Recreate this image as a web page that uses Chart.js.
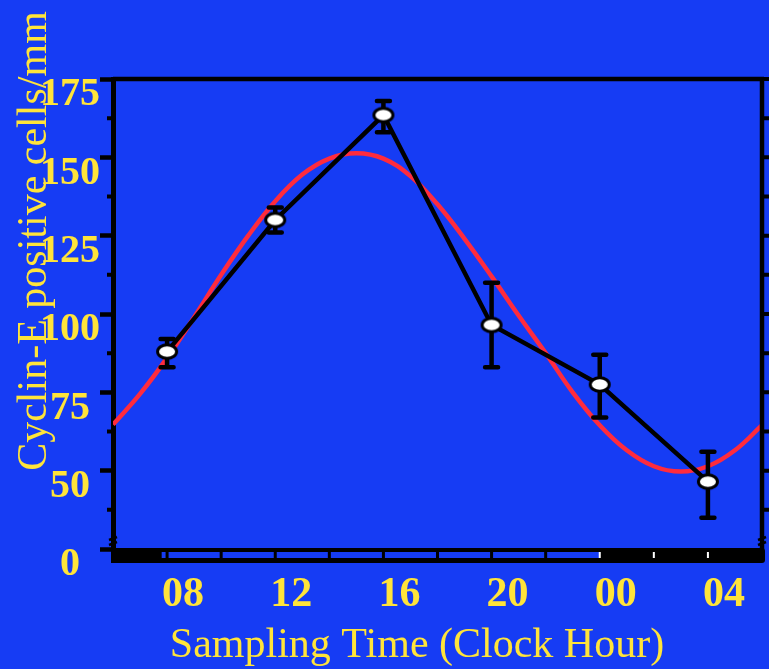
<!DOCTYPE html>
<html>
<head>
<meta charset="utf-8">
<script src="https://cdn.jsdelivr.net/npm/chart.js@4.4.1/dist/chart.umd.min.js"></script>
<style>
  html, body { margin: 0; padding: 0; background: #163cf4; overflow: hidden; }
  canvas { display: block; }
</style>
</head>
<body>
<canvas id="cyclinChart" width="769" height="669"></canvas>
<script>
// sampling times in clock hours (24 and up = next day)
var sampleHours = [8, 12, 16, 20, 24, 28];
var cyclinMean = [88, 130, 163.5, 96.5, 77.5, 46.5];
var errHigh = [92, 134, 168, 110, 87, 56];
var errLow = [83, 126, 158, 83, 67, 35];

// fitted cosine curve
var fitHours = [6, 7, 8, 9, 10, 11, 12, 13, 14, 15, 16, 17, 18, 19, 20, 21, 22, 23, 24, 25, 26, 27, 28, 29, 30];
var fitValues = [64.7, 74.5, 86, 99, 112.5, 125, 136, 144.5, 149.6, 151.3, 149.6, 144, 135, 124, 112, 99.5, 87.5, 75, 64.5, 56.5, 51.4, 49.7, 51.4, 56.5, 64.5];

var xTickHours = [8, 12, 16, 20, 24, 28];
var xTickLabels = ['08', '12', '16', '20', '00', '04'];
var yTickValues = [25, 50, 75, 100, 125, 150, 175];
var yTickLabels = ['0', '50', '75', '100', '125', '150', '175'];

// light / dark bar under the x axis
var lightOn = 7.8;
var lightOff = 24;
var barTickHours = [8, 10, 12, 14, 16, 18, 20, 22, 24, 26, 28];

var BLUE = '#163cf4';
var YELLOW = '#ffe43a';
var SERIF = '"Liberation Serif", "Times New Roman", serif';

// white ellipse marker
var marker = document.createElement('canvas');
marker.width = 26;
marker.height = 19;
(function () {
  var c = marker.getContext('2d');
  c.beginPath();
  c.ellipse(13, 9.5, 9.5, 6.8, 0, 0, Math.PI * 2);
  c.fillStyle = '#fff';
  c.fill();
  c.lineWidth = 3;
  c.strokeStyle = '#000';
  c.stroke();
})();

var background = {
  id: 'background',
  beforeDraw: function (chart) {
    var ctx = chart.ctx;
    ctx.save();
    ctx.fillStyle = BLUE;
    ctx.fillRect(0, 0, chart.width, chart.height);
    ctx.restore();
  }
};

var errorBars = {
  id: 'errorBars',
  beforeDatasetDraw: function (chart, args) {
    if (args.index !== 1) return;
    var xs = chart.scales.x, ys = chart.scales.y, ctx = chart.ctx;
    ctx.save();
    ctx.strokeStyle = '#000';
    ctx.lineWidth = 4.5;
    ctx.lineCap = 'round';
    sampleHours.forEach(function (h, i) {
      var px = xs.getPixelForValue(h);
      var top = ys.getPixelForValue(errHigh[i]);
      var bot = ys.getPixelForValue(errLow[i]);
      ctx.beginPath();
      ctx.moveTo(px, top); ctx.lineTo(px, bot);
      ctx.moveTo(px - 6.5, top); ctx.lineTo(px + 6.5, top);
      ctx.moveTo(px - 6.5, bot); ctx.lineTo(px + 6.5, bot);
      ctx.stroke();
    });
    ctx.restore();
  }
};

var frame = {
  id: 'frame',
  afterDraw: function (chart) {
    var ctx = chart.ctx, a = chart.chartArea;
    var xs = chart.scales.x, ys = chart.scales.y;
    ctx.save();
    ctx.strokeStyle = '#000';
    ctx.lineWidth = 4.5;

    // top and right border
    ctx.beginPath();
    ctx.moveTo(a.left, a.top);
    ctx.lineTo(a.right + 2, a.top);
    ctx.moveTo(a.right, a.top);
    ctx.lineTo(a.right, a.bottom);
    ctx.stroke();

    // minor ticks left, all ticks right
    ctx.lineWidth = 4;
    ctx.beginPath();
    for (var v = 37.5; v <= 175; v += 12.5) {
      var py = ys.getPixelForValue(v);
      if (v % 25 !== 0) {
        ctx.moveTo(a.left - 6, py);
        ctx.lineTo(a.left, py);
      }
      ctx.moveTo(a.right, py);
      ctx.lineTo(a.right + 9, py);
    }
    ctx.stroke();

    // axis break marks
    ctx.lineWidth = 2.5;
    ctx.beginPath();
    [a.left, a.right].forEach(function (bx) {
      ctx.moveTo(bx - 4, a.bottom - 9); ctx.lineTo(bx + 4, a.bottom - 12);
      ctx.moveTo(bx - 4, a.bottom - 4); ctx.lineTo(bx + 4, a.bottom - 7);
    });
    ctx.stroke();

    // light / dark bar
    var barTop = a.bottom - 1, barH = 15;
    ctx.fillStyle = '#000';
    ctx.beginPath();
    ctx.roundRect(a.left - 2, barTop, a.right - a.left + 5, barH, [0, 3, 3, 0]);
    ctx.fill();
    var lx0 = xs.getPixelForValue(lightOn), lx1 = xs.getPixelForValue(lightOff);
    ctx.fillStyle = BLUE;
    ctx.fillRect(lx0, barTop + 4, lx1 - lx0, 6);
    barTickHours.forEach(function (h) {
      var px = xs.getPixelForValue(h);
      if (h >= lightOn && h < lightOff) {
        ctx.fillStyle = '#000';
        ctx.fillRect(px - 1.5, barTop + 4, 3, 6);
      } else {
        ctx.fillStyle = '#fff';
        ctx.fillRect(px - 1, barTop + 4, 2, 6);
      }
    });

    // axis titles
    ctx.fillStyle = YELLOW;
    ctx.font = '42px ' + SERIF;
    ctx.textAlign = 'center';
    ctx.textBaseline = 'alphabetic';
    ctx.fillText('Sampling Time (Clock Hour)', 417, 657);
    ctx.translate(46, 241);
    ctx.rotate(-Math.PI / 2);
    ctx.fillText('Cyclin-E positive cells/mm', 0, 0);
    ctx.restore();
  }
};

var fitData = fitHours.map(function (h, i) { return {x: h, y: fitValues[i]}; });
var meanData = sampleHours.map(function (h, i) { return {x: h, y: cyclinMean[i]}; });

var ctx = document.getElementById('cyclinChart').getContext('2d');
var chart = new Chart(ctx, {
  type: 'line',
  data: {
    datasets: [
      {
        label: 'Cosine fit',
        data: fitData,
        borderColor: '#ff2b3d',
        borderWidth: 4.5,
        pointRadius: 0,
        tension: 0.4,
        order: 2
      },
      {
        label: 'Cyclin-E',
        data: meanData,
        borderColor: '#000',
        borderWidth: 4.5,
        pointStyle: marker,
        pointRadius: 9,
        tension: 0,
        order: 1
      }
    ]
  },
  options: {
    responsive: false,
    animation: false,
    devicePixelRatio: 1,
    layout: {autoPadding: false, padding: {top: 79, right: 7, left: 0, bottom: 0}},
    plugins: {legend: {display: false}, tooltip: {enabled: false}},
    scales: {
      x: {
        type: 'linear',
        min: 6,
        max: 30,
        afterBuildTicks: function (scale) {
          scale.ticks = xTickHours.map(function (h) { return {value: h}; });
        },
        afterFit: function (scale) {
          scale.height = 120;
          scale.paddingLeft = 0;
          scale.paddingRight = 0;
        },
        grid: {display: false, drawTicks: false},
        border: {display: false},
        ticks: {
          color: YELLOW,
          font: {family: SERIF, size: 42, weight: 'bold'},
          padding: 21,
          labelOffset: 16,
          maxRotation: 0,
          callback: function (v) { return xTickLabels[xTickHours.indexOf(v)]; }
        }
      },
      y: {
        min: 25,
        max: 175,
        afterBuildTicks: function (scale) {
          scale.ticks = yTickValues.map(function (v) { return {value: v}; });
        },
        afterFit: function (scale) {
          scale.width = 113;
          scale.paddingTop = 0;
          scale.paddingBottom = 0;
        },
        grid: {drawOnChartArea: false, drawTicks: true, tickLength: 13, tickWidth: 4.5, tickColor: '#000'},
        border: {display: true, color: '#000', width: 5},
        ticks: {
          color: YELLOW,
          font: {family: SERIF, size: 40, weight: 'bold'},
          padding: 0,
          crossAlign: 'center',
          labelOffset: 16,
          callback: function (v) { return yTickLabels[yTickValues.indexOf(v)]; }
        }
      }
    }
  },
  plugins: [background, errorBars, frame]
});
</script>
</body>
</html>
